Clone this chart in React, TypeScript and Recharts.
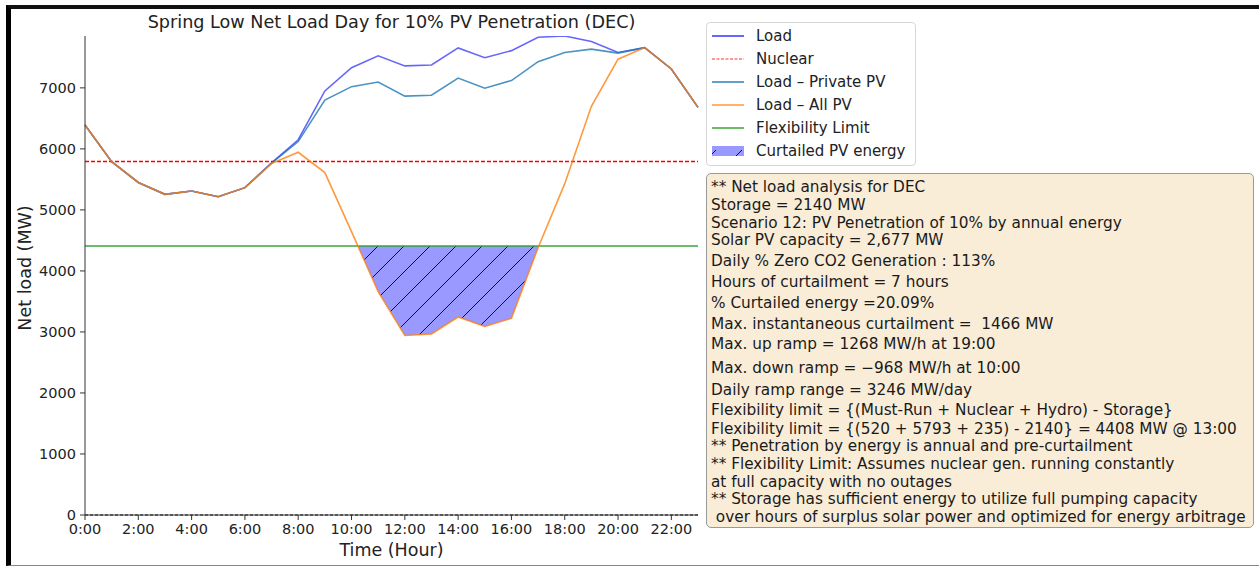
import React from "react";
import {
  ComposedChart,
  Line,
  Area,
  XAxis,
  YAxis,
  ReferenceLine,
  ReferenceArea,
} from "recharts";

// hourly values (MW)
const hours = [0, 1, 2, 3, 4, 5, 6, 7, 8, 9, 10, 11, 12, 13, 14, 15, 16, 17, 18, 19, 20, 21, 22, 23];
const load = [6390, 5790, 5450, 5255, 5310, 5215, 5365, 5770, 6150, 6950, 7330, 7525, 7360, 7375, 7655, 7495, 7610, 7830, 7850, 7760, 7580, 7660, 7310, 6680];
const privatePV = [6390, 5790, 5450, 5255, 5310, 5215, 5365, 5765, 6120, 6800, 7020, 7095, 6865, 6880, 7160, 6995, 7120, 7430, 7580, 7635, 7570, 7660, 7310, 6680];
const allPV = [6390, 5790, 5450, 5255, 5310, 5215, 5365, 5760, 5945, 5612, 4644, 3660, 2942, 2967, 3245, 3090, 3224, 4380, 5430, 6698, 7470, 7660, 7310, 6680];
const NUCLEAR = 5793;
const FLEX = 4408;
const Y_MAX = 7850;
const xTicks = [0, 2, 4, 6, 8, 10, 12, 14, 16, 18, 20, 22];
const yTicks = [0, 1000, 2000, 3000, 4000, 5000, 6000, 7000];

const legendItems = [
  { name: "Load", color: "#0000ff", opacity: 0.6, dash: "" },
  { name: "Nuclear", color: "#ff0000", opacity: 0.8, dash: "3 1.5" },
  { name: "Load \u2013 Private PV", color: "#1f77b4", opacity: 0.7, dash: "" },
  { name: "Load \u2013 All PV", color: "#ff7f0e", opacity: 0.6, dash: "" },
  { name: "Flexibility Limit", color: "#2ca02c", opacity: 0.7, dash: "" },
];

// info box lines with their vertical centres
const notes: [string, number][] = [
  ["** Net load analysis for DEC", 186],
  ["Storage = 2140 MW", 204],
  ["Scenario 12: PV Penetration of 10% by annual energy", 222],
  ["Solar PV capacity = 2,677 MW", 239],
  ["Daily % Zero CO2 Generation : 113%", 260],
  ["Hours of curtailment = 7 hours", 281],
  ["% Curtailed energy =20.09%", 302],
  ["Max. instantaneous curtailment =  1466 MW", 323],
  ["Max. up ramp = 1268 MW/h at 19:00", 343],
  ["Max. down ramp = \u2212968 MW/h at 10:00", 367],
  ["Daily ramp range = 3246 MW/day", 389],
  ["Flexibility limit = {(Must-Run + Nuclear + Hydro) - Storage}", 409],
  ["Flexibility limit = {(520 + 5793 + 235) - 2140} = 4408 MW @ 13:00", 428],
  ["** Penetration by energy is annual and pre-curtailment", 445],
  ["** Flexibility Limit: Assumes nuclear gen. running constantly", 463],
  ["at full capacity with no outages", 481],
  ["** Storage has sufficient energy to utilize full pumping capacity", 498],
  [" over hours of surplus solar power and optimized for energy arbitrage", 516],
];

const FONT = "'DejaVu Sans', sans-serif";

export default function App() {
  const rows = hours.map((h, i) => ({
    hour: h,
    load: load[i],
    privatePV: privatePV[i],
    allPV: allPV[i],
    nuclear: NUCLEAR,
    flex: FLEX,
  }));

  return (
    <div
      style={{
        position: "fixed",
        left: 0,
        top: 0,
        width: 1259,
        height: 567,
        background: "#fff",
        fontFamily: FONT,
        color: "#222",
        overflow: "hidden",
      }}
    >
      {/* outer frame */}
      <div
        style={{
          position: "absolute",
          left: 6,
          top: 5,
          width: 1248,
          height: 556,
          borderTop: "4px solid #111",
          borderLeft: "5px solid #000",
          borderRight: "2px solid #111",
          borderBottom: "1px solid #888",
        }}
      />

      <div
        style={{
          position: "absolute",
          left: 85,
          width: 613,
          top: 12,
          textAlign: "center",
          fontSize: 17.6,
          whiteSpace: "nowrap",
        }}
      >
        Spring Low Net Load Day for 10% PV Penetration (DEC)
      </div>

      <div style={{ position: "absolute", left: 0, top: 0 }}>
        <ComposedChart
          width={710}
          height={567}
          data={rows}
          margin={{ top: 36, right: 12, left: 0, bottom: 0 }}
        >
          <defs>
            <pattern id="hatch" patternUnits="userSpaceOnUse" width={26} height={26}>
              <rect width={26} height={26} fill="#9999ff" />
              <path d="M0,26 L26,0 M-3,3 L3,-3 M23,29 L29,23" stroke="#111" strokeWidth={1} />
            </pattern>
          </defs>
          <Area
            dataKey="allPV"
            baseValue={FLEX}
            stroke="none"
            fill="url(#hatch)"
            fillOpacity={1}
            isAnimationActive={false}
            zIndex={100}
          />
          <ReferenceArea y1={FLEX} y2={Y_MAX} fill="#fff" fillOpacity={1} stroke="none" zIndex={150} />
          <Line
            dataKey="nuclear"
            stroke="#ff0000"
            strokeDasharray="4 2"
            strokeWidth={1.3}
            dot={false}
            isAnimationActive={false}
          />
          <Line
            dataKey="flex"
            stroke="#2ca02c"
            strokeOpacity={0.7}
            strokeWidth={2}
            dot={false}
            isAnimationActive={false}
          />
          <Line
            dataKey="load"
            stroke="#0000ff"
            strokeOpacity={0.6}
            strokeWidth={1.6}
            dot={false}
            isAnimationActive={false}
          />
          <Line
            dataKey="privatePV"
            stroke="#1f77b4"
            strokeOpacity={0.8}
            strokeWidth={1.6}
            dot={false}
            isAnimationActive={false}
          />
          <Line
            dataKey="allPV"
            stroke="#ff7f0e"
            strokeOpacity={0.8}
            strokeWidth={1.6}
            dot={false}
            isAnimationActive={false}
          />
          <ReferenceLine y={0} stroke="#000" strokeDasharray="3 2" strokeWidth={1.2} zIndex={450} />
          <XAxis
            dataKey="hour"
            type="number"
            domain={[0, 23]}
            ticks={xTicks}
            tickFormatter={(h: number) => `${h}:00`}
            height={52}
            tickSize={5}
            tickMargin={4}
            stroke="#333"
            tick={{ fill: "#222", fontSize: 14.5, fontFamily: FONT }}
          />
          <XAxis
            xAxisId="top"
            orientation="top"
            dataKey="hour"
            type="number"
            domain={[0, 23]}
            height={0}
            tick={false}
            tickLine={false}
            stroke="#333"
          />
          <YAxis
            type="number"
            domain={[0, Y_MAX]}
            ticks={yTicks}
            width={85}
            tickSize={5}
            tickMargin={4}
            stroke="#333"
            allowDataOverflow
            tick={{ fill: "#222", fontSize: 14.5, fontFamily: FONT }}
          />
          <YAxis
            yAxisId="right"
            orientation="right"
            type="number"
            domain={[0, Y_MAX]}
            width={0}
            tick={false}
            tickLine={false}
            stroke="#333"
          />
        </ComposedChart>
      </div>

      <div
        style={{
          position: "absolute",
          left: 85,
          width: 613,
          top: 540,
          textAlign: "center",
          fontSize: 17.5,
        }}
      >
        Time (Hour)
      </div>
      <div
        style={{
          position: "absolute",
          left: 25,
          top: 268,
          transform: "translate(-50%, -50%) rotate(-90deg)",
          fontSize: 17.5,
          whiteSpace: "nowrap",
        }}
      >
        Net load (MW)
      </div>

      {/* legend */}
      <div
        style={{
          position: "absolute",
          left: 706,
          top: 22,
          width: 208,
          height: 142,
          border: "1px solid #d6d6d6",
          borderRadius: 4,
          background: "#fff",
          fontSize: 15,
        }}
      >
        {legendItems.map((it, i) => (
          <div
            key={it.name}
            style={{ position: "absolute", left: 4, top: 12.5 + i * 23 - 9, height: 18, display: "flex", alignItems: "center" }}
          >
            <svg width={34} height={18}>
              <line x1={1} x2={33} y1={9} y2={9} stroke={it.color} strokeOpacity={it.opacity} strokeWidth={it.dash ? 1.2 : 2} strokeDasharray={it.dash} />
            </svg>
            <span style={{ marginLeft: 11, whiteSpace: "nowrap" }}>{it.name}</span>
          </div>
        ))}
        <div style={{ position: "absolute", left: 4, top: 128 - 9, height: 18, display: "flex", alignItems: "center" }}>
          <svg width={34} height={18}>
            <rect x={1} y={4} width={32} height={10} fill="#9999ff" />
            <path d="M1,12 L5,8 M25,14 L31,8" stroke="#111" strokeWidth={1} />
          </svg>
          <span style={{ marginLeft: 11, whiteSpace: "nowrap" }}>Curtailed PV energy</span>
        </div>
      </div>

      {/* analysis box */}
      <div
        style={{
          position: "absolute",
          left: 706,
          top: 173,
          width: 546,
          height: 353,
          border: "1px solid #9a9a9a",
          borderRadius: 5,
          background: "#f9edd8",
          fontSize: 15.3,
        }}
      >
        {notes.map(([t, y]) => (
          <div
            key={t}
            style={{
              position: "absolute",
              left: 4,
              top: y - 173 - 9,
              height: 18,
              lineHeight: "18px",
              whiteSpace: "pre",
              color: "#1a1a1a",
            }}
          >
            {t}
          </div>
        ))}
      </div>
    </div>
  );
}
